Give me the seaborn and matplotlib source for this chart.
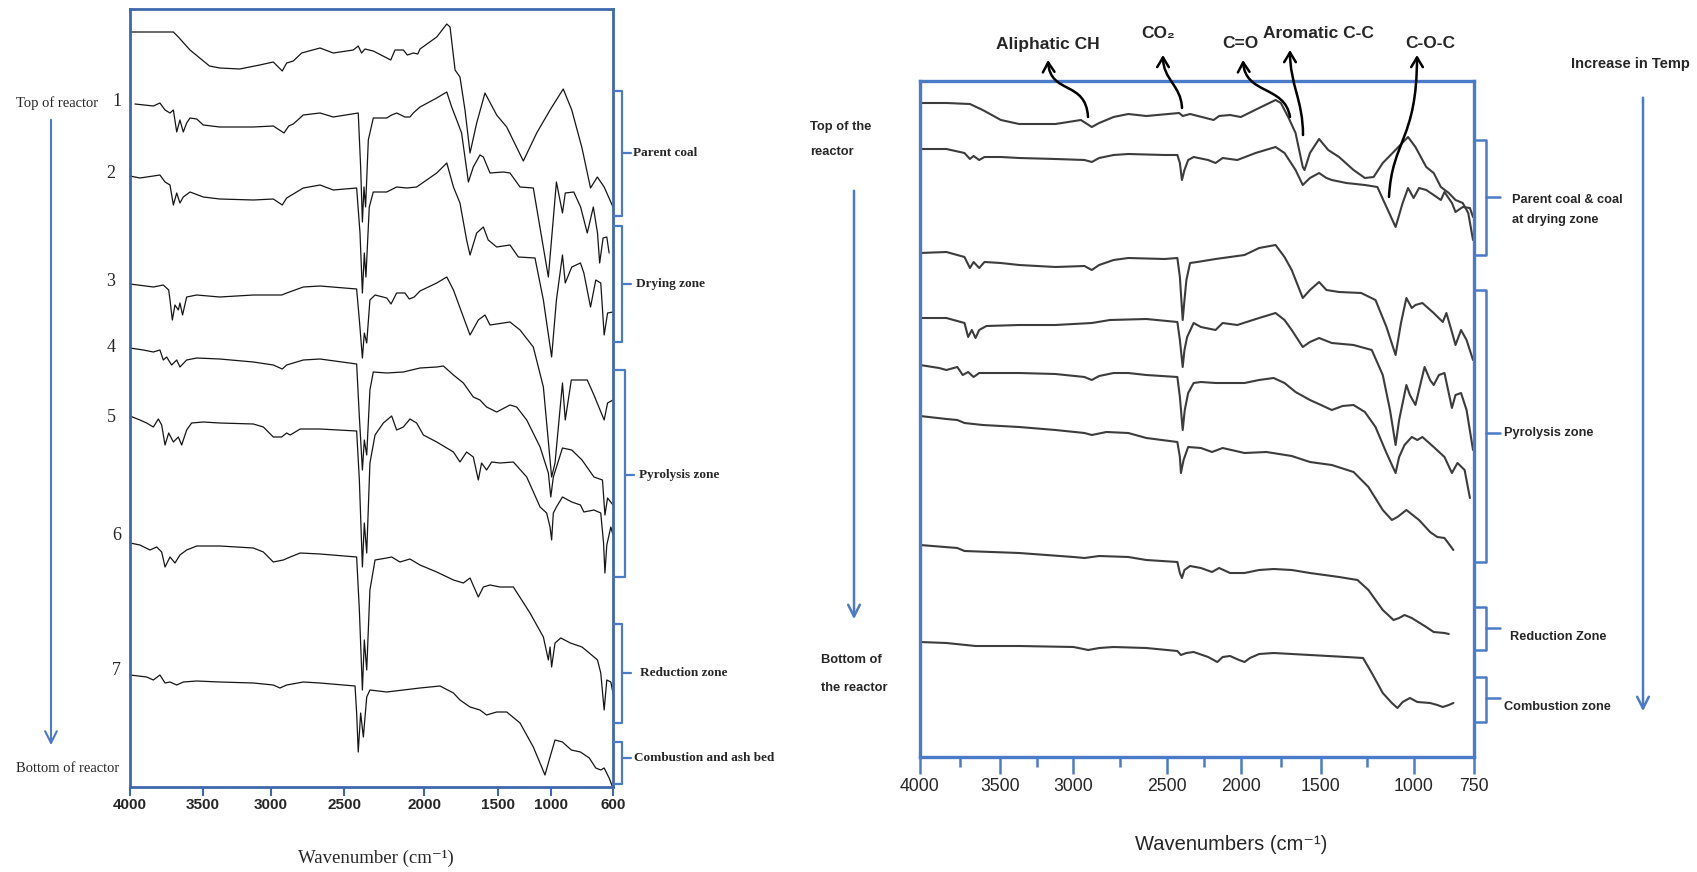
import numpy as np
import pandas as pd
import matplotlib
matplotlib.use("Agg")
import matplotlib.pyplot as plt
import seaborn as sns
from matplotlib.lines import Line2D
from matplotlib.patches import FancyArrowPatch
from matplotlib.path import Path

# ---------------------------------------------------------------- data
# FTIR spectra, (wavenumber cm-1, offset transmittance a.u.)
# Left panel: samples taken along the gasifier, top to bottom
l0 = [(4000,755),(3840,755),(3703,755),(3669,750),(3589,737),(3452,721),(3376,719),(3228,718),(3080,722),
      (2981,725),(2920,716),(2890,724),(2845,726),(2788,734),(2663,739),(2573,734),(2442,737),(2411,741),
      (2390,734),(2369,738),(2317,736),(2208,727),(2181,737),(2129,737),(2104,732),(2067,734),(2039,733),
      (2025,738),(1914,750),(1846,763),(1824,760),(1790,717),(1757,710),(1723,677),(1689,634),(1644,664),
      (1588,694),(1509,672),(1418,660),(1261,626),(1135,654),(1009,677),(921,698),(866,677),(800,639),
      (745,599),(701,610),(657,600),(600,580)]
l1 = [(3966,683),(3840,681),(3795,684),(3760,677),(3726,674),(3703,677),(3680,655),(3658,667),(3635,655),
      (3612,664),(3589,669),(3543,668),(3498,662),(3376,660),(3127,660),(2981,661),(2908,654),(2876,661),
      (2845,663),(2777,672),(2663,674),(2573,670),(2411,674),(2396,620),(2385,565),(2375,600),(2365,580),
      (2348,647),(2317,669),(2233,669),(2202,672),(2171,674),(2119,670),(2088,670),(2067,674),(2025,680),
      (1914,689),(1846,695),(1813,680),(1779,667),(1746,654),(1700,605),(1667,620),(1622,632),(1599,630),
      (1554,614),(1450,615),(1387,614),(1292,600),(1167,599),(1025,510),(965,605),(926,574),(908,594),
      (853,595),(809,580),(766,554),(727,580),(700,554),(686,524),(664,549),(640,550),(625,534)]
l2 = [(4000,611),(3932,609),(3840,611),(3795,612),(3760,605),(3726,602),(3703,582),(3680,594),(3658,584),
      (3635,590),(3589,595),(3498,590),(3376,588),(3127,587),(2981,588),(2920,582),(2890,589),(2777,599),
      (2663,602),(2573,597),(2421,599),(2400,554),(2385,494),(2373,534),(2363,510),(2342,580),(2317,595),
      (2233,595),(2171,600),(2108,599),(2046,600),(1914,614),(1846,624),(1801,600),(1757,584),(1712,547),
      (1689,532),(1644,554),(1599,560),(1566,547),(1509,540),(1387,542),(1308,530),(1151,529),(1072,487),
      (996,430),(965,487),(926,532),(908,504),(866,520),(810,524),(788,514),(745,480),(711,507),(679,504),
      (657,452),(635,474),(600,475)]
l3 = [(4000,503),(3840,500),(3772,502),(3735,497),(3726,487),(3710,467),(3692,482),(3669,477),(3658,484),
      (3640,472),(3612,490),(3543,492),(3376,490),(3127,492),(2924,492),(2890,494),(2777,500),(2663,501),
      (2421,498),(2404,467),(2385,429),(2373,454),(2358,444),(2338,487),(2306,492),(2233,489),(2206,483),
      (2171,494),(2119,494),(2092,488),(2061,490),(2025,496),(1914,504),(1846,510),(1801,497),(1734,470),
      (1689,452),(1633,467),(1588,472),(1554,462),(1387,465),(1292,457),(1167,440),(1072,400),(996,310),
      (974,324),(926,404),(908,367),(869,407),(766,407),(723,392),(657,367),(635,384),(600,387)]
l4 = [(4000,439),(3909,437),(3840,435),(3795,437),(3772,427),(3749,430),(3715,422),(3680,427),(3658,420),
      (3612,427),(3543,429),(3376,428),(3127,425),(2981,422),(2920,418),(2890,422),(2777,427),(2663,428),
      (2421,423),(2404,370),(2385,317),(2373,347),(2358,332),(2338,397),(2317,415),(2233,414),(2129,415),
      (2025,419),(1914,420),(1869,421),(1801,412),(1734,404),(1667,390),(1622,387),(1577,380),(1509,375),
      (1387,382),(1324,380),(1229,367),(1103,340),(1025,314),(1002,290),(985,310),(926,339),(866,337),
      (800,327),(723,310),(668,307),(652,272),(635,289),(600,282)]
l5 = [(4000,371),(3932,367),(3886,364),(3840,360),(3806,368),(3783,362),(3760,342),(3735,354),(3703,345),
      (3669,350),(3646,342),(3612,357),(3578,364),(3498,365),(3376,364),(3127,363),(3053,360),(2981,350),
      (2924,350),(2890,354),(2866,352),(2798,358),(2663,358),(2421,356),(2404,307),(2385,220),(2373,264),
      (2358,234),(2338,324),(2306,352),(2254,364),(2202,371),(2171,357),(2129,360),(2088,368),(2046,364),
      (2004,352),(1914,345),(1801,335),(1757,325),(1712,335),(1667,330),(1633,307),(1611,324),(1577,317),
      (1543,325),(1481,324),(1355,325),(1229,310),(1103,280),(1041,274),(1009,260),(996,247),(985,274),
      (965,280),(926,290),(866,285),(810,282),(788,275),(723,277),(679,274),(661,244),(652,214),(640,242),
      (614,260),(600,252)]
l6 = [(4000,244),(3932,242),(3863,237),(3817,240),(3783,235),(3760,220),(3726,230),(3692,224),(3658,232),
      (3612,237),(3543,241),(3376,241),(3127,239),(3053,235),(2981,225),(2913,227),(2866,230),(2798,234),
      (2663,233),(2421,230),(2404,177),(2385,97),(2373,147),(2358,117),(2338,197),(2306,227),(2233,229),
      (2202,230),(2150,225),(2088,228),(2025,222),(1914,215),(1801,207),(1734,204),(1689,209),(1633,190),
      (1599,200),(1554,202),(1481,200),(1355,200),(1198,174),(1072,150),(1025,127),(1009,140),(996,120),
      (974,144),(937,149),(875,144),(800,140),(753,134),(700,127),(679,114),(657,77),(640,107),(614,105),
      (600,94)]
l7 = [(4000,112),(3886,110),(3840,107),(3795,112),(3760,104),(3726,105),(3680,102),(3635,105),(3543,106),
      (3376,105),(3127,104),(2981,102),(2936,99),(2890,102),(2777,105),(2663,104),(2431,101),(2421,74),
      (2411,35),(2396,74),(2379,50),(2358,90),(2338,97),(2233,95),(2129,97),(2025,99),(1892,101),(1801,94),
      (1757,87),(1689,80),(1622,77),(1577,72),(1509,75),(1418,75),(1292,64),(1167,40),(1088,20),(1057,12),
      (1009,30),(974,47),(926,45),(869,37),(810,35),(753,29),(711,19),(679,17),(657,19),(625,9),(600,-1)]

# Right panel: same reactor, second set of samples
r0 = [(4000,654),(3835,654),(3688,653),(3608,647),(3494,637),(3369,633),(3120,633),(2958,637),(2900,630),
      (2861,634),(2784,640),(2706,643),(2610,641),(2418,644),(2394,641),(2344,643),(2185,637),(2148,641),
      (2074,642),(2001,640),(1887,649),(1784,657),(1751,654),(1705,640),(1659,624),(1614,590),(1603,587),
      (1569,604),(1512,618),(1461,607),(1403,600),(1325,587),(1264,579),(1217,580),(1168,594),(1110,605),
      (1032,620),(994,610),(949,590),(918,584),(888,570),(855,564),(827,557),(797,554),(774,544),(754,517)]
r1 = [(4000,608),(3835,608),(3722,604),(3688,598),(3665,601),(3630,597),(3597,600),(3494,600),(3369,599),
      (3120,598),(2939,597),(2900,595),(2861,599),(2784,602),(2706,603),(2513,602),(2430,602),(2413,594),
      (2399,577),(2382,587),(2357,597),(2320,600),(2222,597),(2172,594),(2124,599),(2025,597),(1909,604),
      (1784,610),(1728,604),(1659,587),(1614,572),(1569,579),(1512,584),(1471,579),(1442,577),(1364,574),
      (1264,572),(1197,570),(1148,550),(1099,530),(1061,554),(1032,569),(1002,559),(979,569),(949,567),
      (918,562),(888,557),(873,565),(842,554),(827,545),(797,550),(767,549),(754,540)]
r2 = [(4000,504),(3835,505),(3722,500),(3688,489),(3665,495),(3630,489),(3597,495),(3494,494),(3369,492),
      (3120,490),(2939,491),(2900,487),(2861,492),(2784,497),(2706,499),(2513,498),(2430,499),(2413,480),
      (2394,437),(2382,457),(2369,477),(2344,494),(2296,495),(2172,498),(2074,500),(1978,502),(1887,509),
      (1784,512),(1728,500),(1683,487),(1614,459),(1569,467),(1512,475),(1471,467),(1403,465),(1284,464),
      (1207,457),(1148,430),(1099,402),(1070,434),(1041,459),(1012,449),(994,452),(965,454),(918,444),
      (880,435),(865,444),(842,425),(827,412),(804,427),(781,417),(754,397)]
r3 = [(4000,439),(3835,439),(3722,434),(3699,420),(3676,427),(3653,419),(3630,427),(3585,431),(3369,432),
      (3120,432),(2900,434),(2803,437),(2610,438),(2430,435),(2413,417),(2394,390),(2382,407),(2364,420),
      (2320,434),(2271,430),(2172,427),(2124,434),(2025,432),(1887,439),(1784,444),(1728,437),(1683,427),
      (1614,410),(1569,415),(1512,419),(1442,414),(1325,412),(1227,407),(1168,382),(1129,347),(1099,312),
      (1080,337),(1041,372),(1022,362),(994,352),(956,390),(933,377),(918,372),(896,382),(873,384),
      (842,349),(827,362),(804,364),(781,347),(754,307)]
r4 = [(4000,392),(3881,389),(3835,387),(3767,390),(3733,382),(3699,385),(3665,380),(3630,384),(3585,384),
      (3369,384),(3120,383),(2939,380),(2900,377),(2861,381),(2784,384),(2706,384),(2610,382),(2430,380),
      (2413,360),(2394,327),(2380,347),(2357,364),(2320,374),(2271,375),(2172,374),(2074,374),(1978,374),
      (1887,377),(1796,379),(1728,374),(1659,365),(1569,357),(1500,352),(1442,347),(1384,351),(1325,352),
      (1264,345),(1207,330),(1148,304),(1099,284),(1080,300),(1051,312),(1012,320),(986,317),(965,320),
      (918,310),(873,300),(842,284),(819,294),(789,287),(767,259)]
r5 = [(4000,341),(3835,338),(3767,337),(3722,334),(3608,332),(3369,330),(3120,327),(2939,324),(2900,322),
      (2822,325),(2706,324),(2610,319),(2430,315),(2413,300),(2406,284),(2388,297),(2357,310),(2271,309),
      (2196,305),(2124,309),(1978,304),(1841,305),(1683,301),(1569,295),(1442,292),(1325,285),(1245,270),
      (1168,247),(1119,237),(1089,240),(1041,247),(979,237),(933,225),(903,220),(873,219),(842,209),(836,207)]
r6 = [(4000,212),(3767,209),(3722,206),(3369,204),(2997,200),(2939,199),(2861,201),(2706,200),(2610,197),
      (2430,195),(2413,184),(2399,179),(2382,187),(2344,191),(2271,189),(2196,185),(2148,189),(2074,184),
      (1978,184),(1887,187),(1796,188),(1683,187),(1569,184),(1403,180),(1304,177),(1245,167),(1168,147),
      (1110,137),(1080,139),(1051,142),(1012,139),(949,130),(918,125),(873,124),(855,123)]
r7 = [(4000,115),(3835,114),(3653,111),(3369,111),(2997,110),(2919,107),(2861,109),(2784,110),(2610,109),
      (2430,106),(2406,102),(2369,104),(2320,105),(2222,100),(2160,95),(2124,100),(2074,101),(2013,97),
      (1978,95),(1944,99),(1887,103),(1796,104),(1569,102),(1364,100),(1274,99),(1227,84),(1168,64),
      (1119,54),(1089,49),(1061,55),(1022,59),(986,55),(933,54),(903,52),(880,50),(855,52),(836,54)]

left_ticks = [4000, 3500, 3000, 2500, 2000, 1500, 1000, 600]
right_ticks = [4000, 3500, 3000, 2500, 2000, 1500, 1000, 750]
right_minor = [3750, 3250, 2750, 2250, 1750, 1250]
left_numbers = ["1", "2", "3", "4", "5", "6", "7"]
left_zones = ["Parent coal", "Drying zone", "Pyrolysis zone", "Reduction zone", "Combustion and ash bed"]
right_zones = ["Parent coal & coal\nat drying zone", "Pyrolysis zone", "Reduction Zone", "Combustion zone"]
band_labels = ["Aliphatic CH", "CO\u2082", "C=O", "Aromatic C-C", "C-O-C"]

# ---------------------------------------------------------------- style
sns.set_theme(style="white")
SANS = ["Liberation Sans", "DejaVu Sans"]
SERIF = ["Liberation Serif", "DejaVu Serif"]
plt.rcParams["font.family"] = SANS

W, H = 1697, 872
fig = plt.figure(figsize=(W / 100, H / 100), dpi=100)
BLUE_L = "#3F68AE"
BLUE_R = "#4A7BC8"


def fxy(x, y):
    """pixel position (from top-left) -> figure fraction"""
    return x / W, 1 - y / H


def piecewise_scale(ticks, offsets):
    # the wavenumber axis is stretched differently between its labelled marks
    w_asc = np.asarray(ticks[::-1], float)
    p_asc = -np.asarray(offsets[::-1], float)
    fwd = lambda w: np.interp(w, w_asc, p_asc)
    inv = lambda p: np.interp(p, p_asc, w_asc)
    return fwd, inv


ax_l = fig.add_axes([130 / W, 1 - 787 / H, 483 / W, 778 / H])
ax_r = fig.add_axes([920 / W, 1 - 757 / H, 554 / W, 676 / H])

ax_l.set_xscale("function", functions=piecewise_scale(left_ticks, [0, 73, 140.5, 214, 294, 368, 421, 483]))
ax_r.set_xscale("function", functions=piecewise_scale(right_ticks, [0, 80, 153, 247, 321, 401, 494, 554]))


def draw(ax, spectra, color, lw):
    for s in spectra:
        df = pd.DataFrame(s, columns=["wavenumber", "T"])
        sns.lineplot(data=df, x="wavenumber", y="T", ax=ax, color=color, lw=lw,
                     sort=False, estimator=None)
    for line in ax.get_lines():
        line.set_clip_on(False)


draw(ax_l, [l0, l1, l2, l3, l4, l5, l6, l7], "#151515", 0.9)
draw(ax_r, [r0, r1, r2, r3, r4, r5, r6, r7], "#3c3c3c", 1.5)

ax_l.set_xlim(4000, 600)
ax_l.set_ylim(0, 778)
ax_r.set_xlim(4000, 750)
ax_r.set_ylim(0, 676)

for ax, col, lw in ((ax_l, BLUE_L, 2.0), (ax_r, BLUE_R, 2.4)):
    ax.set_yticks([])
    ax.set_ylabel("")
    for sp in ax.spines.values():
        sp.set_color(col)
        sp.set_linewidth(lw)
        sp.set_visible(True)

ax_l.set_xticks(left_ticks)
ax_l.set_xticklabels([str(t) for t in left_ticks], fontsize=11, fontweight="bold", family=SANS)
ax_l.tick_params(axis="x", direction="out", length=6.5, width=1.5, color=BLUE_L, pad=1.5, bottom=True)
ax_l.xaxis.set_minor_locator(matplotlib.ticker.NullLocator())

ax_r.set_xticks(right_ticks)
ax_r.set_xticks(right_minor, minor=True)
ax_r.set_xticklabels([str(t) for t in right_ticks], fontsize=12.7, family=SANS)
ax_r.tick_params(axis="x", which="major", direction="out", length=12, width=1.8, color=BLUE_R, pad=3, bottom=True)
ax_r.tick_params(axis="x", which="minor", direction="out", length=7, width=1.8, color=BLUE_R, bottom=True)

ax_l.set_xlabel("Wavenumber (cm\u207b\u00b9)", fontsize=13.5, family=SERIF, va="center")
ax_l.xaxis.set_label_coords(0.509, -0.0913)
ax_r.set_xlabel("Wavenumbers (cm\u207b\u00b9)", fontsize=14.5, family=SANS, va="center")
ax_r.xaxis.set_label_coords(0.561, -0.1287)

# ---------------------------------------------------------------- left annotations
fig.text(*fxy(16, 103), "Top of reactor", family=SERIF, fontsize=10.5, va="center", ha="left")
fig.text(*fxy(16, 768), "Bottom of reactor", family=SERIF, fontsize=10.5, va="center", ha="left")
fig.add_artist(FancyArrowPatch(fxy(51, 117), fxy(51, 748), transform=fig.transFigure,
                               arrowstyle="->,head_length=0.6,head_width=0.3", mutation_scale=14,
                               color=BLUE_R, lw=1.5))
for lab, (x, y) in zip(left_numbers, [(116.5, 102), (111, 173), (111, 282), (111, 347), (111, 417),
                                      (116.5, 535), (116.5, 670)]):
    fig.text(*fxy(x, y), lab, family=SERIF, fontsize=13, ha="center", va="center")


def bracket(x_frame, x_v, y0, y1, ym, x_tip, color, lw):
    xs = [x_frame, x_v, x_v, x_frame]
    ys = [y0, y0, y1, y1]
    fig.add_artist(Line2D([x / W for x in xs], [1 - y / H for y in ys], color=color, lw=lw,
                          solid_joinstyle="round"))
    fig.add_artist(Line2D([x_v / W, x_tip / W], [1 - ym / H] * 2, color=color, lw=lw))


left_br = [(91, 216, 153, 622, 633), (226, 342, 284, 622, 636), (370, 577, 475, 625, 639),
           (624, 723, 673, 622, 640), (742, 784, 758, 622, 634)]
for lab, (y0, y1, ym, xv, xt) in zip(left_zones, left_br):
    bracket(614, xv, y0, y1, ym, xv + 9, BLUE_R, 1.6)
    fig.text(*fxy(xt, ym), lab, family=SERIF, fontweight="bold", fontsize=9.5, ha="left", va="center")

# ---------------------------------------------------------------- right annotations
fig.text(*fxy(810, 127), "Top of the", fontsize=9.3, fontweight="bold", ha="left", va="center")
fig.text(*fxy(810, 152), "reactor", fontsize=9.3, fontweight="bold", ha="left", va="center")
fig.text(*fxy(821, 660), "Bottom of", fontsize=9.3, fontweight="bold", ha="left", va="center")
fig.text(*fxy(821, 688), "the reactor", fontsize=9.3, fontweight="bold", ha="left", va="center")
fig.add_artist(FancyArrowPatch(fxy(854, 188), fxy(854, 622), transform=fig.transFigure,
                               arrowstyle="->,head_length=0.6,head_width=0.3", mutation_scale=14,
                               color=BLUE_R, lw=1.8))
fig.text(*fxy(1630, 64), "Increase in Temp", fontsize=10.5, fontweight="bold", ha="center", va="center")
fig.add_artist(FancyArrowPatch(fxy(1643, 95), fxy(1643, 714), transform=fig.transFigure,
                               arrowstyle="->,head_length=0.6,head_width=0.3", mutation_scale=14,
                               color=BLUE_R, lw=1.8))

right_br = [(140, 255, 197, 1512, 210), (290, 562, 433, 1504, 433), (607, 650, 628, 1510, 637),
            (677, 722, 698, 1504, 707)]
for lab, (y0, y1, ym, xt, yt) in zip(right_zones, right_br):
    bracket(1476, 1486, y0, y1, ym, 1500, BLUE_R, 1.8)
    fig.text(*fxy(xt, yt), lab, fontsize=9.2, fontweight="bold",
             ha="left", va="center", linespacing=1.9)

# band assignments with curved pointers
band_pos = [(1048, 44), (1158, 33), (1240, 43), (1318, 33), (1430, 44)]
for lab, (x, y) in zip(band_labels, band_pos):
    fig.text(*fxy(x, y), lab, fontsize=12.5, fontweight="bold", ha="center", va="center")

pointers = [
    [(1088, 117), (1086, 80), (1050, 95), (1048, 60)],
    [(1182, 108), (1181, 85), (1163, 80), (1163, 55)],
    [(1290, 117), (1285, 85), (1245, 95), (1243, 60)],
    [(1303, 135), (1303, 100), (1290, 85), (1290, 50)],
    [(1389, 197), (1392, 140), (1417, 140), (1417, 55)],
]
for pts in pointers:
    path = Path([fxy(*p) for p in pts], [Path.MOVETO, Path.CURVE4, Path.CURVE4, Path.CURVE4])
    fig.add_artist(FancyArrowPatch(path=path, transform=fig.transFigure,
                                   arrowstyle="->,head_length=0.5,head_width=0.3",
                                   mutation_scale=14, color="black", lw=1.8))

fig.savefig("out.png", dpi=100, facecolor="white")
